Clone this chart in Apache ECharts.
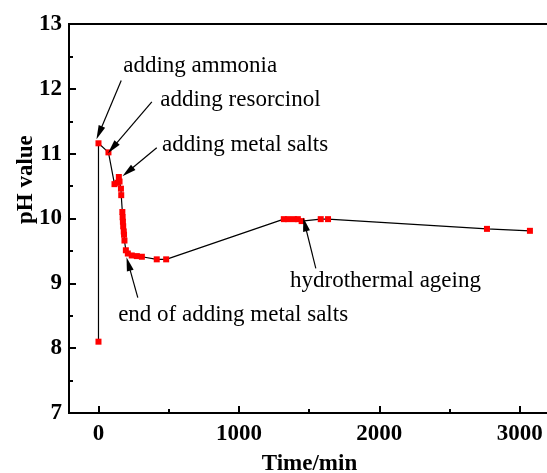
<!DOCTYPE html>
<html>
<head>
<meta charset="utf-8">
<script src="https://cdn.jsdelivr.net/npm/echarts@6/dist/echarts.min.js"></script>
<style>
  html, body { margin: 0; padding: 0; background: #fff; }
  #chart { width: 547px; height: 473px; }
</style>
</head>
<body>
<div id="chart"></div>
<script>
// pH of the reaction mixture over time (minutes)
const timeMin = [0, 0, 71, 114, 135, 145, 150, 160, 162, 170, 172, 174, 176, 180, 182, 185, 195, 209, 237, 273, 309, 415, 482,
  1320, 1350, 1392, 1420, 1447, 1583, 1635, 2767, 3073];
const phValue = [8.10, 11.16, 11.02, 10.53, 10.55, 10.64, 10.57, 10.46, 10.36, 10.10, 10.02, 9.95, 9.88, 9.80, 9.75, 9.66, 9.51, 9.46, 9.43, 9.42, 9.41, 9.37, 9.37,
  9.99, 9.99, 9.99, 9.99, 9.96, 9.99, 9.99, 9.84, 9.81];

const xTickLabels = [0, 1000, 2000, 3000];
const xMinorTicks = [500, 1500, 2500];

// Process-step notes: text anchor and arrow (tail -> tip), in data units
const noteText = ['adding ammonia', 'adding resorcinol', 'adding metal salts', 'end of adding metal salts', 'hydrothermal ageing'];
const noteTextAt = [[176, 12.35], [440, 11.83], [453, 11.13], [140, 8.52], [1364, 9.03]];
const noteArrowFrom = [[162, 12.13], [380, 11.80], [415, 11.09], [280, 8.78], [1548, 9.23]];
const noteArrowTo = [[5, 11.32], [100, 11.09], [209, 10.72], [213, 9.30], [1470, 9.91]];

const serif = 'Liberation Serif, Times New Roman, serif';
const chart = echarts.init(document.getElementById('chart'), null, { renderer: 'canvas' });

const points = timeMin.map((t, i) => [t, phValue[i]]);
const arrows = noteArrowFrom.map((a, i) => [{ coord: a }, { coord: noteArrowTo[i] }]);

const axisBlack = { show: true, onZero: false, lineStyle: { color: '#000', width: 2 } };

chart.setOption({
  animation: false,
  backgroundColor: '#fff',
  grid: {
    left: 69, top: 24, right: -3, bottom: 60, outerBoundsMode: 'none', containLabel: false,
    show: true, borderColor: '#000', borderWidth: 2, backgroundColor: 'transparent'
  },
  xAxis: [{
    type: 'value', min: -210, max: 3216,
    axisLine: axisBlack,
    axisTick: { show: true, inside: true, length: 7, lineStyle: { color: '#000', width: 2 }, customValues: xTickLabels },
    axisLabel: {
      customValues: xTickLabels, formatter: (v) => String(v),
      color: '#000', fontFamily: serif, fontWeight: 'bold', fontSize: 23, margin: 10
    },
    splitLine: { show: false },
    name: 'Time/min', nameLocation: 'middle', nameGap: 40,
    nameTextStyle: { color: '#000', fontFamily: serif, fontWeight: 'bold', fontSize: 23 }
  }, {
    type: 'value', min: -210, max: 3216, position: 'bottom', offset: 0,
    axisLine: { show: false, onZero: false },
    axisTick: { show: true, inside: true, length: 4, lineStyle: { color: '#000', width: 2 }, customValues: xMinorTicks },
    axisLabel: { show: false },
    splitLine: { show: false }
  }],
  yAxis: {
    type: 'value', min: 7, max: 13, interval: 1,
    axisLine: axisBlack,
    axisTick: { show: true, inside: true, length: 7, lineStyle: { color: '#000', width: 2 } },
    minorTick: { show: true, splitNumber: 2, length: 4, lineStyle: { color: '#000', width: 2 } },
    axisLabel: { color: '#000', fontFamily: serif, fontWeight: 'bold', fontSize: 23, margin: 7 },
    splitLine: { show: false }
  },
  series: [{
    type: 'line',
    data: points,
    symbol: 'rect',
    symbolSize: 6,
    showAllSymbol: true,
    itemStyle: { color: '#ff0000' },
    lineStyle: { color: '#000', width: 1.2 },
    z: 3
  }, {
    type: 'line',
    data: [],
    silent: true,
    markLine: {
      silent: true,
      symbol: ['none', 'triangle'],
      symbolSize: [7, 14],
      label: { show: false },
      lineStyle: { color: '#000', width: 1.2, type: 'solid' },
      data: arrows
    }
  }]
});

// Text for the notes and the y-axis title
const graphics = noteText.map((txt, i) => {
  const p = chart.convertToPixel({ gridIndex: 0 }, noteTextAt[i]);
  return {
    type: 'text', x: p[0], y: p[1],
    style: { text: txt, fill: '#000', font: '23px ' + serif, textAlign: 'left', textVerticalAlign: 'middle' }
  };
});
const yTitleAt = chart.convertToPixel({ gridIndex: 0 }, [-210, 10.6]);
graphics.push({
  type: 'text', x: 26, y: yTitleAt[1], rotation: Math.PI / 2,
  style: { text: 'pH value', fill: '#000', font: 'bold 23px ' + serif, textAlign: 'center', textVerticalAlign: 'middle' }
});
chart.setOption({ graphic: graphics });
</script>
</body>
</html>
